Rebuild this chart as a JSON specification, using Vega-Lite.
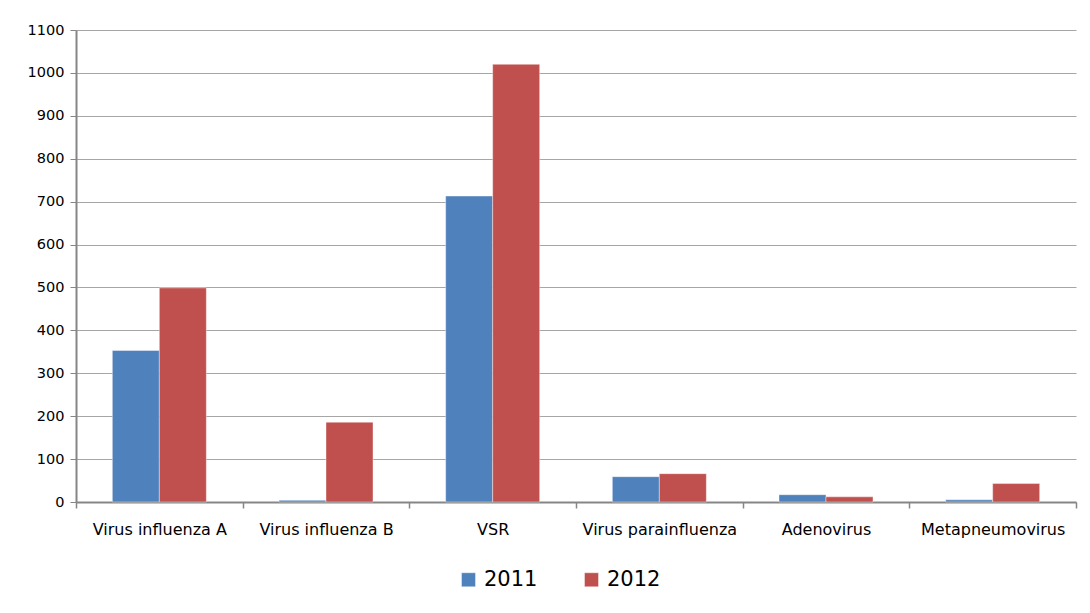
{
  "$schema": "https://vega.github.io/schema/vega-lite/v6.json",
  "width": 1000,
  "height": 472,
  "autosize": {"type": "none"},
  "padding": {"left": 76, "top": 30, "right": 14, "bottom": 111},
  "background": "#ffffff",
  "data": {
    "values": [
      {"virus": "Virus influenza A", "year": "2011", "value": 353},
      {"virus": "Virus influenza A", "year": "2012", "value": 499},
      {"virus": "Virus influenza B", "year": "2011", "value": 4},
      {"virus": "Virus influenza B", "year": "2012", "value": 186},
      {"virus": "VSR", "year": "2011", "value": 713},
      {"virus": "VSR", "year": "2012", "value": 1020},
      {"virus": "Virus parainfluenza", "year": "2011", "value": 59},
      {"virus": "Virus parainfluenza", "year": "2012", "value": 66},
      {"virus": "Adenovirus", "year": "2011", "value": 17},
      {"virus": "Adenovirus", "year": "2012", "value": 12},
      {"virus": "Metapneumovirus", "year": "2011", "value": 5},
      {"virus": "Metapneumovirus", "year": "2012", "value": 43}
    ]
  },
  "mark": {"type": "bar"},
  "encoding": {
    "x": {
      "field": "virus",
      "type": "nominal",
      "sort": null,
      "scale": {"paddingInner": 0, "paddingOuter": 0},
      "axis": {
        "title": null,
        "labelAngle": 0,
        "tickBand": "extent",
        "labelFont": "DejaVu Sans",
        "labelFontSize": 16,
        "labelColor": "#000000",
        "labelPadding": 13,
        "tickSize": 6,
        "tickColor": "#868686",
        "domainColor": "#868686",
        "domainWidth": 2,
        "tickWidth": 1.5,
        "grid": false
      }
    },
    "xOffset": {
      "field": "year",
      "type": "nominal",
      "scale": {"paddingInner": 0, "paddingOuter": 0.773}
    },
    "y": {
      "field": "value",
      "type": "quantitative",
      "scale": {"domain": [0, 1100], "nice": false},
      "axis": {
        "title": null,
        "format": "d",
        "values": [0, 100, 200, 300, 400, 500, 600, 700, 800, 900, 1000, 1100],
        "labelFont": "DejaVu Sans",
        "labelFontSize": 14.5,
        "labelColor": "#000000",
        "labelPadding": 6,
        "tickSize": 6,
        "tickColor": "#868686",
        "domainColor": "#868686",
        "domainWidth": 2,
        "grid": true,
        "gridColor": "#a6a6a6",
        "gridWidth": 1
      }
    },
    "color": {
      "field": "year",
      "type": "nominal",
      "scale": {"domain": ["2011", "2012"], "range": ["#4F81BD", "#C0504D"]},
      "legend": {
        "title": null,
        "orient": "none",
        "direction": "horizontal",
        "legendX": 382,
        "legendY": 539,
        "symbolType": "square",
        "symbolSize": 196,
        "symbolStrokeWidth": 0,
        "labelFont": "DejaVu Sans",
        "labelFontSize": 21,
        "labelColor": "#000000",
        "labelOffset": 5,
        "columnPadding": 43
      }
    }
  },
  "config": {
    "view": {"stroke": null},
    "bar": {"stroke": "#ffffff", "strokeOpacity": 0.4, "strokeWidth": 1}
  }
}
